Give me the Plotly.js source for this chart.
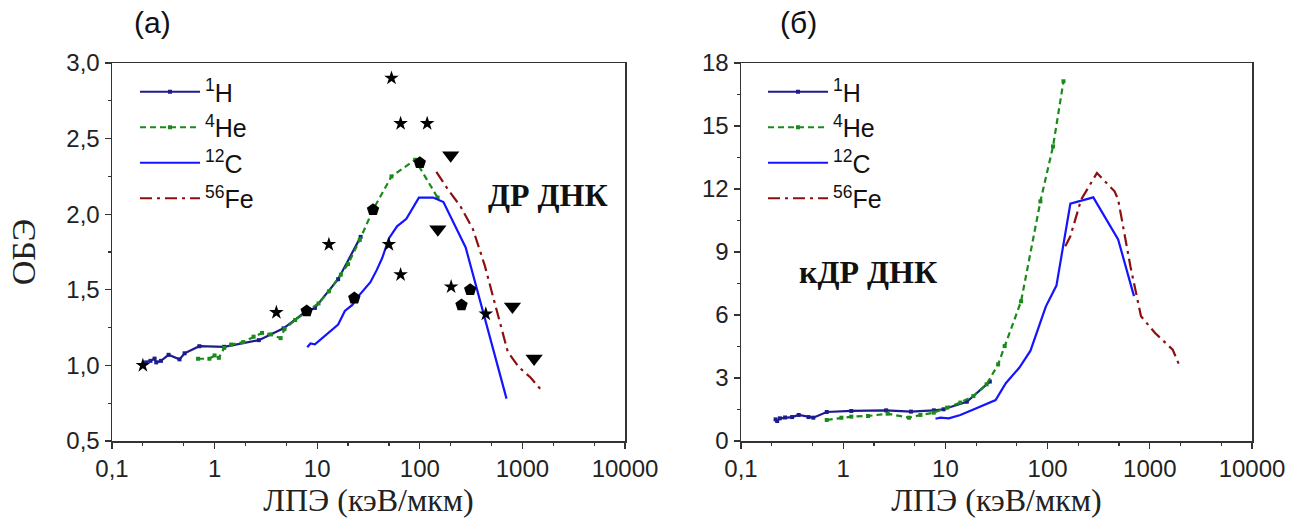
<!DOCTYPE html>
<html>
<head>
<meta charset="utf-8">
<script src="https://cdn.plot.ly/plotly-3.0.1.min.js"></script>
<style>html,body{margin:0;padding:0;background:#fff;}#chart{width:1308px;height:520px;}</style>
</head>
<body>
<div id="chart"></div>
<script>
// ---------- Panel (a): ДР ДНК ----------
const H1_L_x = [0.2, 0.215, 0.237, 0.26, 0.27, 0.30, 0.356, 0.455, 0.51, 0.71, 1.24, 2.7, 4.7, 7.7, 9.5, 16, 26.5];
const H1_L_y = [1.0, 1.02, 1.03, 1.045, 1.02, 1.03, 1.07, 1.04, 1.08, 1.127, 1.123, 1.167, 1.245, 1.355, 1.38, 1.57, 1.85];
const He4_L_x = [0.69, 0.89, 1.0, 1.1, 1.24, 1.45, 1.9, 2.4, 2.9, 3.5, 4.4, 4.8, 6.1, 7.7, 10.3, 13, 17, 20, 26, 35, 53, 90, 149];
const He4_L_y = [1.044, 1.044, 1.066, 1.05, 1.116, 1.138, 1.154, 1.19, 1.215, 1.205, 1.18, 1.24, 1.30, 1.35, 1.41, 1.49, 1.60, 1.67, 1.83, 2.03, 2.25, 2.36, 2.11];
const C12_L_x = [8.0, 8.6, 9.5, 10.7, 12.9, 16, 18.6, 22, 25, 29, 33, 38, 43, 50, 60, 74, 98, 135, 170, 280, 700];
const C12_L_y = [1.12, 1.145, 1.14, 1.17, 1.215, 1.27, 1.36, 1.40, 1.455, 1.51, 1.55, 1.63, 1.71, 1.84, 1.92, 1.97, 2.11, 2.11, 2.08, 1.78, 0.78];
const Fe56_L_x = [145, 190, 250, 330, 430, 550, 720, 920, 1200, 1600];
const Fe56_L_y = [2.28, 2.16, 2.05, 1.9, 1.66, 1.38, 1.09, 0.99, 0.92, 0.82];
const stars_x = [0.2, 4.0, 13, 53, 65, 118, 50, 65, 202, 440];
const stars_y = [1.0, 1.35, 1.8, 2.9, 2.6, 2.6, 1.8, 1.6, 1.52, 1.34];
const pent_x = [7.9, 23, 35, 100, 255, 310];
const pent_y = [1.36, 1.445, 2.03, 2.34, 1.40, 1.50];
const tri_x = [200, 150, 800, 1300];
const tri_y = [2.39, 1.9, 1.39, 1.045];

// ---------- Panel (б): кДР ДНК ----------
const H1_R_x = [0.218, 0.226, 0.24, 0.27, 0.316, 0.367, 0.458, 0.51, 0.69, 1.2, 2.63, 4.6, 7.7, 9.6, 16.2, 27.2];
const H1_R_y = [1.03, 0.95, 1.08, 1.12, 1.14, 1.24, 1.14, 1.11, 1.38, 1.43, 1.46, 1.40, 1.46, 1.51, 1.87, 2.83];
const He4_R_x = [0.69, 0.96, 1.2, 1.75, 2.72, 4.4, 5.7, 7.7, 10.4, 14, 18.8, 25.3, 32.8, 38, 55, 85, 113, 143];
const He4_R_y = [1.0, 1.11, 1.16, 1.19, 1.30, 1.11, 1.24, 1.35, 1.59, 1.83, 2.14, 2.70, 3.65, 4.52, 6.65, 11.41, 14.03, 17.13];
const C12_R_x = [8.0, 8.9, 10.8, 14, 18.8, 31, 39, 53, 68, 96, 122, 167, 280, 490, 700];
const C12_R_y = [1.06, 1.11, 1.08, 1.24, 1.5, 1.95, 2.75, 3.5, 4.3, 6.4, 7.4, 11.3, 11.6, 9.6, 6.9];
const Fe56_R_x = [149, 167, 213, 304, 452, 490, 646, 820, 1127, 1675, 1963];
const Fe56_R_y = [9.27, 9.75, 11.5, 12.76, 11.89, 11.5, 8.32, 5.94, 5.14, 4.35, 3.56];

// ---------- Labels / ticks ----------
const seriesNames = ['<sup>1</sup>H', '<sup>4</sup>He', '<sup>12</sup>C', '<sup>56</sup>Fe'];
const xTickVals = [0.1, 1, 10, 100, 1000, 10000];
const xTickText = ['0,1', '1', '10', '100', '1000', '10000'];
const yLTickVals = [0.5, 1.0, 1.5, 2.0, 2.5, 3.0];
const yLTickText = ['0,5', '1,0', '1,5', '2,0', '2,5', '3,0'];
const yRTickVals = [0, 3, 6, 9, 12, 15, 18];
const xTitle = 'ЛПЭ (кэВ/мкм)';
const yTitle = 'ОБЭ';
const panelLabels = ['(a)', '(б)'];
const panelTexts = ['ДР ДНК', 'кДР ДНК'];

const colH = '#1c1c8e', colHe = '#1a8a1a', colC = '#1414ff', colFe = '#8b1010';
const dashFe = '12px,5px,3px,5px';
const SANS = '"Liberation Sans", Arial, sans-serif';
const SERIF = '"Liberation Serif", "Times New Roman", serif';

function series(x, y, i, xa, ya, leg) {
  const styles = [
    {line: {color: colH, width: 2.2}, marker: {symbol: 'square', size: 4, color: colH}, mode: 'lines+markers'},
    {line: {color: colHe, width: 2.2, dash: '6px,4px'}, marker: {symbol: 'square', size: 4, color: colHe}, mode: 'lines+markers'},
    {line: {color: colC, width: 2.2}, mode: 'lines'},
    {line: {color: colFe, width: 2.2, dash: dashFe}, mode: 'lines'}
  ];
  return Object.assign({x: x, y: y, name: seriesNames[i], xaxis: xa, yaxis: ya,
    legend: leg, legendgroup: leg + i, type: 'scatter', hoverinfo: 'skip'}, styles[i]);
}

const data = [
  series(H1_L_x, H1_L_y, 0, 'x', 'y', 'legend'),
  series(He4_L_x, He4_L_y, 1, 'x', 'y', 'legend'),
  series(C12_L_x, C12_L_y, 2, 'x', 'y', 'legend'),
  series(Fe56_L_x, Fe56_L_y, 3, 'x', 'y', 'legend'),
  {x: stars_x, y: stars_y, type: 'scatter', mode: 'markers', xaxis: 'x', yaxis: 'y', showlegend: false,
   marker: {symbol: 'star', size: 11, color: '#000'}},
  {x: pent_x, y: pent_y, type: 'scatter', mode: 'markers', xaxis: 'x', yaxis: 'y', showlegend: false,
   marker: {symbol: 'pentagon', size: 13, color: '#000'}},
  {x: tri_x, y: tri_y, type: 'scatter', mode: 'markers', xaxis: 'x', yaxis: 'y', showlegend: false,
   marker: {symbol: 'triangle-down', size: 15, color: '#000'}},
  series(H1_R_x, H1_R_y, 0, 'x2', 'y2', 'legend2'),
  series(He4_R_x, He4_R_y, 1, 'x2', 'y2', 'legend2'),
  series(C12_R_x, C12_R_y, 2, 'x2', 'y2', 'legend2'),
  series(Fe56_R_x, Fe56_R_y, 3, 'x2', 'y2', 'legend2')
];

const W = 1308, H = 520;
const tickFont = {family: SANS, size: 24, color: '#222'};
const titleFont = {family: SERIF, size: 32, color: '#222'};

function xaxisDef(dom, anchor) {
  return {type: 'log', domain: dom, anchor: anchor, range: [-1, 4],
    tickmode: 'array', tickvals: xTickVals, ticktext: xTickText,
    ticks: 'outside', ticklen: 6, tickwidth: 1.3, tickcolor: '#333',
    minor: {ticks: 'outside', ticklen: 3, tickwidth: 1.2, tickcolor: '#333', showgrid: false},
    showline: true, linecolor: '#333', linewidth: 1.5, mirror: true,
    showgrid: false, zeroline: false, tickfont: tickFont,
    title: {text: xTitle, font: titleFont, standoff: 0}};
}

const legendFont = {family: SANS, size: 25, color: '#111'};

const layout = {
  width: W, height: H,
  margin: {l: 0, r: 0, t: 0, b: 0},
  paper_bgcolor: '#fff', plot_bgcolor: '#fff',
  showlegend: true,
  xaxis: xaxisDef([112 / W, 625 / W], 'y'),
  yaxis: {domain: [1 - 441 / H, 1 - 63 / H], anchor: 'x', range: [0.5, 3.0],
    tickmode: 'array', tickvals: yLTickVals, ticktext: yLTickText,
    ticks: 'outside', ticklen: 6, tickwidth: 1.3, tickcolor: '#333',
    minor: {tickmode: 'linear', tick0: 0.5, dtick: 0.25, ticks: 'outside', ticklen: 3, tickwidth: 1.2, tickcolor: '#333'},
    showline: true, linecolor: '#333', linewidth: 1.5, mirror: true,
    showgrid: false, zeroline: false, tickfont: tickFont,
    title: {text: yTitle, font: {family: SERIF, size: 34, color: '#222'}, standoff: 20}},
  xaxis2: xaxisDef([741 / W, 1252 / W], 'y2'),
  yaxis2: {domain: [1 - 441 / H, 1 - 63 / H], anchor: 'x2', range: [0, 18],
    tickmode: 'array', tickvals: yRTickVals,
    ticks: 'outside', ticklen: 6, tickwidth: 1.3, tickcolor: '#333',
    minor: {tickmode: 'linear', tick0: 0, dtick: 1.5, ticks: 'outside', ticklen: 3, tickwidth: 1.2, tickcolor: '#333'},
    showline: true, linecolor: '#333', linewidth: 1.5, mirror: true,
    showgrid: false, zeroline: false, tickfont: tickFont},
  legend: {x: 135 / W, y: 1 - 69 / H, xanchor: 'left', yanchor: 'top', bgcolor: 'rgba(0,0,0,0)',
    font: legendFont, itemwidth: 60, tracegroupgap: 0},
  legend2: {x: 763 / W, y: 1 - 69 / H, xanchor: 'left', yanchor: 'top', bgcolor: 'rgba(0,0,0,0)',
    font: legendFont, itemwidth: 60, tracegroupgap: 0},
  annotations: [
    {text: panelLabels[0], xref: 'paper', yref: 'paper', x: 152 / W, y: 1 - 23 / H, yanchor: 'middle', xanchor: 'center', showarrow: false,
     font: {family: SANS, size: 30, color: '#111'}},
    {text: panelLabels[1], xref: 'paper', yref: 'paper', x: 798 / W, y: 1 - 23 / H, yanchor: 'middle', xanchor: 'center', showarrow: false,
     font: {family: SANS, size: 30, color: '#111'}},
    {text: '<b>' + panelTexts[0] + '</b>', xref: 'paper', yref: 'paper', x: 548 / W, y: 1 - 195 / H, yanchor: 'middle', xanchor: 'center', showarrow: false,
     font: {family: SERIF, size: 32, color: '#111'}},
    {text: '<b>' + panelTexts[1] + '</b>', xref: 'paper', yref: 'paper', x: 868 / W, y: 1 - 272 / H, yanchor: 'middle', xanchor: 'center', showarrow: false,
     font: {family: SERIF, size: 32, color: '#111'}}
  ]
};

Plotly.newPlot('chart', data, layout, {staticPlot: true, displayModeBar: false});
</script>
</body>
</html>
